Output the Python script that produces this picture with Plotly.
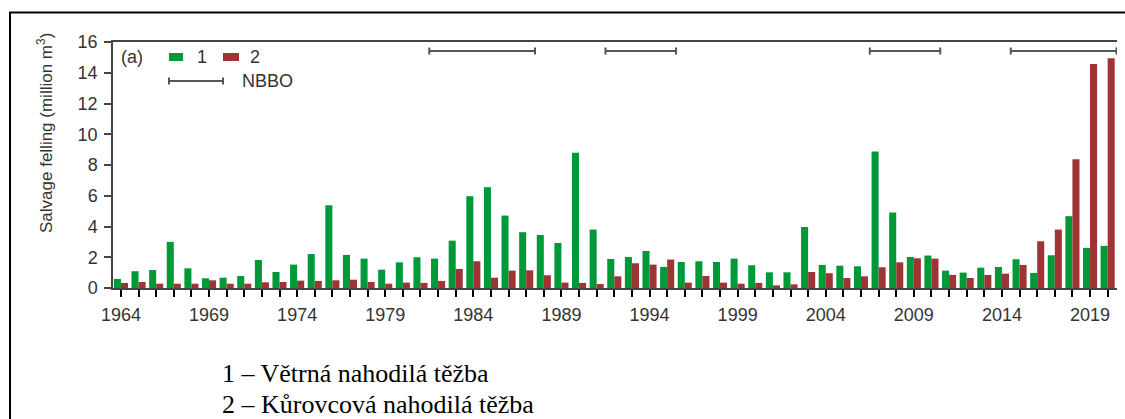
import plotly.graph_objects as go

years = list(range(1964, 2021))
wind = [0.59, 1.09, 1.17, 3.0, 1.28, 0.63, 0.67, 0.78, 1.82, 1.04, 1.52, 2.21, 5.38, 2.15, 1.91,
        1.19, 1.67, 2.0, 1.91, 3.08, 5.97, 6.56, 4.71, 3.63, 3.45, 2.93, 8.79, 3.8, 1.89, 2.02,
        2.41, 1.37, 1.69, 1.74, 1.69, 1.91,
        1.48, 1.02, 1.02, 3.97, 1.5, 1.45, 1.41, 8.88, 4.91, 2.02, 2.11, 1.13, 1.0, 1.32,
        1.37, 1.87, 0.98, 2.13, 4.67, 2.61, 2.74]
beetle = [0.33, 0.39, 0.28, 0.28, 0.28, 0.5, 0.28, 0.28, 0.37, 0.39, 0.48, 0.46, 0.5, 0.54, 0.39,
          0.28, 0.35, 0.33, 0.46, 1.24, 1.74, 0.67, 1.13, 1.15, 0.83, 0.35, 0.33, 0.26, 0.76, 1.61,
          1.52, 1.85, 0.35, 0.78, 0.35, 0.28,
          0.33, 0.17, 0.24, 1.04, 0.96, 0.65, 0.76, 1.35, 1.67, 1.93, 1.91, 0.85, 0.65, 0.85,
          0.93, 1.5, 3.04, 3.8, 8.38, 14.57, 14.94]
label_years = [1964, 1969, 1974, 1979, 1984, 1989, 1994, 1999, 2004, 2009, 2014, 2019]
nbbo_start = [1981.5, 1991.5, 2006.5, 2014.5]
nbbo_end = [1987.5, 1995.5, 2010.5, 2020.5]

GREEN = "#00993a"
RED = "#9e3434"
AX = "#444444"
TXT = "#333333"
SANS = "Arial, Liberation Sans, sans-serif"
SERIF = "Times New Roman, Liberation Serif, serif"
FS = 18

# pixel -> paper helpers (plot area 113..1117 x 42..288)
L, R, T, B = 113, 1117, 42, 288
def px(p):
    return (p - L) / (R - L)
def py(p):
    return (B - p) / (B - T)

fig = go.Figure()
fig.add_trace(go.Bar(x=years, y=wind, name="1", marker_color=GREEN, marker_line_width=0))
fig.add_trace(go.Bar(x=years, y=beetle, name="2", marker_color=RED, marker_line_width=0))

shapes = []
# NBBO periods
for s, e in zip(nbbo_start, nbbo_end):
    shapes.append(dict(type="line", xref="x", yref="paper", x0=s, x1=e, y0=py(51), y1=py(51),
                       line=dict(color="#555555", width=2)))
    for xx in (s, e):
        shapes.append(dict(type="line", xref="x", yref="paper", x0=xx, x1=xx, y0=py(47.5), y1=py(54.5),
                           line=dict(color="#555555", width=2)))
# legend NBBO sample
shapes.append(dict(type="line", xref="paper", yref="paper", x0=px(169), x1=px(223), y0=py(81), y1=py(81),
                   line=dict(color="#555555", width=2)))
for xx in (169, 223):
    shapes.append(dict(type="line", xref="paper", yref="paper", x0=px(xx), x1=px(xx), y0=py(77.5), y1=py(84.5),
                       line=dict(color="#555555", width=2)))
# legend bar swatches
shapes.append(dict(type="rect", xref="paper", yref="paper", x0=px(169), x1=px(183), y0=py(61), y1=py(53),
                   fillcolor=GREEN, line=dict(width=0)))
shapes.append(dict(type="rect", xref="paper", yref="paper", x0=px(223), x1=px(239), y0=py(61), y1=py(53),
                   fillcolor=RED, line=dict(width=0)))
# outer border (left + top)
shapes.append(dict(type="line", xref="paper", yref="paper", x0=px(10), x1=px(10), y0=py(12.5), y1=py(425),
                   line=dict(color="black", width=2)))
shapes.append(dict(type="line", xref="paper", yref="paper", x0=px(9), x1=px(1130), y0=py(12.5), y1=py(12.5),
                   line=dict(color="black", width=2)))

annotations = [
    dict(text="(a)", xref="paper", yref="paper", x=px(119), y=py(57), xanchor="left", yanchor="middle",
         showarrow=False, font=dict(family=SANS, size=FS, color=TXT)),
    dict(text="1", xref="paper", yref="paper", x=px(195), y=py(57), xanchor="left", yanchor="middle",
         showarrow=False, font=dict(family=SANS, size=FS, color=TXT)),
    dict(text="2", xref="paper", yref="paper", x=px(248), y=py(57), xanchor="left", yanchor="middle",
         showarrow=False, font=dict(family=SANS, size=FS, color=TXT)),
    dict(text="NBBO", xref="paper", yref="paper", x=px(240), y=py(81), xanchor="left", yanchor="middle",
         showarrow=False, font=dict(family=SANS, size=FS, color=TXT)),
    dict(text="Salvage felling (million m<sup>3</sup>)", xref="paper", yref="paper", x=px(45), y=py(133),
         xanchor="center", yanchor="middle", textangle=-90, showarrow=False,
         font=dict(family=SANS, size=17, color=TXT)),
    dict(text="1 – Větrná nahodilá těžba", xref="paper", yref="paper", x=px(220), y=py(373),
         xanchor="left", yanchor="middle", showarrow=False, font=dict(family=SERIF, size=26, color="black")),
    dict(text="2 – Kůrovcová nahodilá těžba", xref="paper", yref="paper", x=px(220), y=py(404.5),
         xanchor="left", yanchor="middle", showarrow=False, font=dict(family=SERIF, size=26, color="black")),
]

fig.update_layout(
    width=1125, height=419,
    margin=dict(l=L, r=1125 - R, t=T, b=419 - B, pad=0),
    paper_bgcolor="white", plot_bgcolor="white",
    barmode="group", bargap=0.2, bargroupgap=0,
    showlegend=False,
    shapes=shapes, annotations=annotations,
    font=dict(family=SANS, size=FS, color=TXT),
)
fig.update_xaxes(
    range=[1963.55, 2020.53], tickmode="array", tickvals=label_years, ticktext=[str(y) for y in label_years],
    ticks="outside", ticklen=7, tickwidth=1.5, tickcolor="black",
    minor=dict(dtick=1, tick0=1964, ticks="outside", ticklen=7, tickwidth=1.5, tickcolor="black"),
    showline=True, linecolor=AX, linewidth=1.5, mirror=True, showgrid=False, zeroline=False,
    tickfont=dict(family=SANS, size=FS, color=TXT), ticklabelstandoff=3,
)
fig.update_yaxes(
    range=[0, 16], dtick=2, tick0=0, ticks="outside", ticklen=7, tickwidth=1.5, tickcolor=AX,
    showline=True, linecolor=AX, linewidth=1.5, showgrid=False, zeroline=False,
    tickfont=dict(family=SANS, size=FS, color=TXT), ticklabelstandoff=3,
)
fig.write_html("out.html", config={"displayModeBar": False},
               post_script="document.body.style.margin='0px';")
